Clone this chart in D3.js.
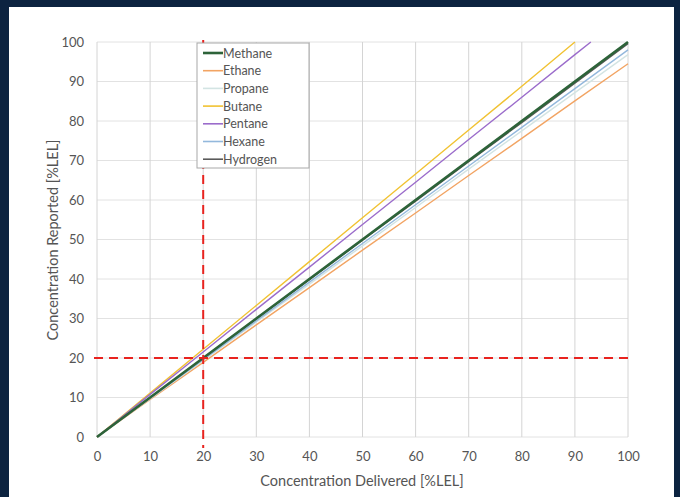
<!DOCTYPE html>
<html>
<head>
<meta charset="utf-8">
<script src="https://cdn.jsdelivr.net/npm/d3@7"></script>
<style>
  body { margin: 0; background: #0c2340; }
  svg { display: block; }
  text { font-family: "Lato", "Open Sans", sans-serif; fill: #555; }
</style>
</head>
<body>
<script>
// Data (x = delivered %LEL, y = reported %LEL)
var xTicks = [0, 10, 20, 30, 40, 50, 60, 70, 80, 90, 100];
var yTicks = [0, 10, 20, 30, 40, 50, 60, 70, 80, 90, 100];
var seriesNames = ["Methane", "Ethane", "Propane", "Butane", "Pentane", "Hexane", "Hydrogen"];
var seriesColors = ["#2d6339", "#f2a463", "#d3e4e3", "#f1c232", "#9b6ccb", "#93b8dc", "#5a5a5a"];

var methaneX  = [0, 10, 20, 30, 40, 50, 60, 70, 80, 90, 100];
var methaneY  = [0, 10, 20, 30, 40, 50, 60, 70, 80, 90, 100];
var ethaneX   = [0, 10, 20, 30, 40, 50, 60, 70, 80, 90, 100];
var ethaneY   = [0, 9.5, 18.9, 28.4, 37.8, 47.3, 56.7, 66.2, 75.6, 85.1, 94.5];
var propaneX  = [0, 10, 20, 30, 40, 50, 60, 70, 80, 90, 100];
var propaneY  = [0, 9.7, 19.4, 29.1, 38.7, 48.4, 58.1, 67.8, 77.5, 87.2, 96.8];
var butaneX   = [0, 10, 20, 30, 40, 50, 60, 70, 80, 90];
var butaneY   = [0, 11.1, 22.2, 33.3, 44.4, 55.5, 66.6, 77.7, 88.8, 100];
var pentaneX  = [0, 10, 20, 30, 40, 50, 60, 70, 80, 90, 93];
var pentaneY  = [0, 10.8, 21.5, 32.3, 43.0, 53.8, 64.5, 75.3, 86.0, 96.8, 100];
var hexaneX   = [0, 10, 20, 30, 40, 50, 60, 70, 80, 90, 100];
var hexaneY   = [0, 9.8, 19.6, 29.4, 39.2, 49.0, 58.8, 68.6, 78.4, 88.2, 98];
var hydrogenX = [0, 10, 20, 30, 40, 50, 60, 70, 80, 90, 100];
var hydrogenY = [0, 9.95, 19.9, 29.9, 39.8, 49.8, 59.7, 69.7, 79.6, 89.6, 99.6];

var refX = 20, refY = 20;

var allX = [methaneX, ethaneX, propaneX, butaneX, pentaneX, hexaneX, hydrogenX];
var allY = [methaneY, ethaneY, propaneY, butaneY, pentaneY, hexaneY, hydrogenY];

var W = 680, H = 497;
var margin = {top: 42, right: 52, bottom: 60, left: 97},
    width = 628 - margin.left,
    height = 437 - margin.top;

var svg = d3.select("body").append("svg")
    .attr("width", W)
    .attr("height", H);

// white panel
svg.append("rect")
    .attr("x", 9).attr("y", 7)
    .attr("width", 665).attr("height", H - 7)
    .attr("fill", "#ffffff");

var g = svg.append("g")
    .attr("transform", "translate(" + margin.left + "," + margin.top + ")");

var x = d3.scaleLinear().domain([0, 100]).range([0, width]);
var y = d3.scaleLinear().domain([0, 100]).range([height, 0]);

// gridlines
g.selectAll(".hgrid").data(yTicks).enter().append("line")
    .attr("x1", 0).attr("x2", width)
    .attr("y1", function(d) { return y(d); })
    .attr("y2", function(d) { return y(d); })
    .attr("stroke", "#e2e2e2").attr("stroke-width", 1);
g.selectAll(".vgrid").data(xTicks).enter().append("line")
    .attr("y1", 0).attr("y2", height)
    .attr("x1", function(d) { return x(d); })
    .attr("x2", function(d) { return x(d); })
    .attr("stroke", "#d4d4d4").attr("stroke-width", 1);

// axes (labels only)
var xAxis = g.append("g")
    .attr("transform", "translate(0," + height + ")")
    .call(d3.axisBottom(x).tickValues(xTicks).tickSize(0).tickPadding(15));
var yAxis = g.append("g")
    .call(d3.axisLeft(y).tickValues(yTicks).tickSize(0).tickPadding(13));
[xAxis, yAxis].forEach(function(a) {
  a.select(".domain").remove();
  a.selectAll("text").attr("font-size", 13).attr("fill", "#555")
    .attr("font-family", "Lato, 'Open Sans', sans-serif");
});

// series lines
var line = d3.line()
    .x(function(d) { return x(d[0]); })
    .y(function(d) { return y(d[1]); });

var drawOrder = [6, 1, 2, 5, 3, 4, 0];
drawOrder.forEach(function(i) {
  var pts = allX[i].map(function(v, k) { return [v, allY[i][k]]; });
  g.append("path")
    .datum(pts)
    .attr("d", line)
    .attr("fill", "none")
    .attr("stroke", seriesColors[i])
    .attr("stroke-width", i === 0 ? 2.6 : 1.4);
});

// reference dashed lines
g.append("line")
    .attr("x1", x(refX)).attr("x2", x(refX))
    .attr("y1", -2).attr("y2", height + 11)
    .attr("stroke", "#e8231f").attr("stroke-width", 2)
    .attr("stroke-dasharray", "9,6");
g.append("line")
    .attr("x1", -3).attr("x2", width)
    .attr("y1", y(refY)).attr("y2", y(refY))
    .attr("stroke", "#e8231f").attr("stroke-width", 2)
    .attr("stroke-dasharray", "9,6");

// legend
var legend = svg.append("g").attr("transform", "translate(197,43)");
legend.append("rect")
    .attr("width", 112).attr("height", 125)
    .attr("fill", "#ffffff")
    .attr("stroke", "#a8a8a8").attr("stroke-width", 1);
seriesNames.forEach(function(name, i) {
  var row = legend.append("g").attr("transform", "translate(0," + (10 + i * 17.7) + ")");
  row.append("line")
    .attr("x1", 6).attr("x2", 26)
    .attr("stroke", seriesColors[i])
    .attr("stroke-width", i === 0 ? 2.6 : 1.6);
  row.append("text")
    .attr("x", 26).attr("y", 4.5)
    .attr("font-size", 12.5)
    .attr("fill", "#444")
    .text(name);
});

// axis titles
svg.append("text")
    .attr("x", 362).attr("y", 486)
    .attr("text-anchor", "middle")
    .attr("font-size", 14.5)
    .attr("fill", "#555")
    .text("Concentration Delivered [%LEL]");
svg.append("text")
    .attr("transform", "translate(58,240) rotate(-90)")
    .attr("text-anchor", "middle")
    .attr("font-size", 14.5)
    .attr("fill", "#555")
    .text("Concentration Reported [%LEL]");
</script>
</body>
</html>
